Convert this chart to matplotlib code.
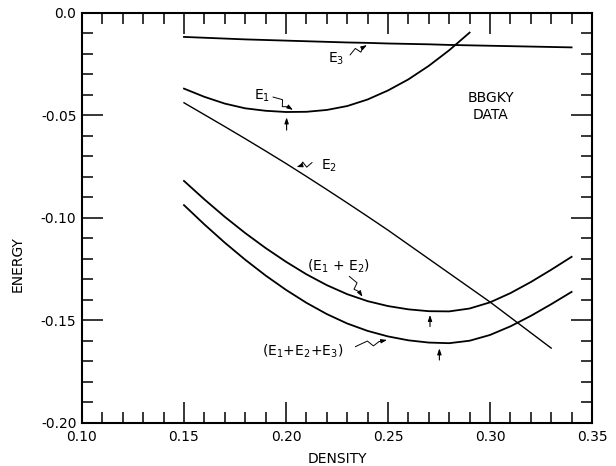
import numpy as np
import matplotlib
matplotlib.use("Agg")
import matplotlib.pyplot as plt

plt.rcParams['font.family'] = ['DejaVu Sans']
plt.rcParams['mathtext.default'] = 'regular'

# ---- data ----
density = [0.15, 0.16, 0.17, 0.18, 0.19, 0.20, 0.21, 0.22, 0.23, 0.24,
           0.25, 0.26, 0.27, 0.28, 0.29, 0.30, 0.31, 0.32, 0.33, 0.34]

e3 = [-0.0118, -0.0122, -0.0126, -0.0130, -0.0133, -0.0136, -0.0139, -0.0142, -0.0145, -0.0147,
      -0.0150, -0.0152, -0.0154, -0.0157, -0.0159, -0.0161, -0.0163, -0.0165, -0.0167, -0.0169]

density_e1 = [0.15, 0.16, 0.17, 0.18, 0.19, 0.20, 0.21, 0.22, 0.23, 0.24,
              0.25, 0.26, 0.27, 0.28, 0.29]
e1 = [-0.0370, -0.0410, -0.0443, -0.0466, -0.0478, -0.0484, -0.0483, -0.0474, -0.0455, -0.0423,
      -0.0379, -0.0325, -0.0259, -0.0183, -0.0097]

density_e2 = [0.15, 0.16, 0.17, 0.18, 0.19, 0.20, 0.21, 0.22, 0.23, 0.24,
              0.25, 0.26, 0.27, 0.28, 0.29, 0.30, 0.31, 0.32, 0.33]
e2 = [-0.0439, -0.0497, -0.0555, -0.0614, -0.0674, -0.0735, -0.0798, -0.0862, -0.0927, -0.0993,
      -0.1060, -0.1130, -0.1200, -0.1270, -0.1340, -0.1410, -0.1485, -0.1560, -0.1635]

e12 = [-0.0820, -0.0910, -0.0995, -0.1074, -0.1147, -0.1214, -0.1275, -0.1328, -0.1372, -0.1406,
       -0.1430, -0.1446, -0.1455, -0.1456, -0.1442, -0.1412, -0.1367, -0.1313, -0.1253, -0.1190]

e123 = [-0.0938, -0.1032, -0.1121, -0.1204, -0.1281, -0.1351, -0.1414, -0.1469, -0.1515, -0.1551,
        -0.1578, -0.1597, -0.1608, -0.1611, -0.1599, -0.1571, -0.1529, -0.1478, -0.1421, -0.1361]

x_ticks = [0.10, 0.15, 0.20, 0.25, 0.30, 0.35]
x_ticklabels = ["0.10", "0.15", "0.20", "0.25", "0.30", "0.35"]
y_ticks = [0.0, -0.05, -0.10, -0.15, -0.20]
y_ticklabels = ["0.0", "-0.05", "-0.10", "-0.15", "-0.20"]

# ---- figure ----
fig = plt.figure(figsize=(6.16, 4.66), dpi=100)
ax = fig.add_axes([0.1331, 0.0923, 0.8279, 0.8804])

lw = 1.3
ax.plot(density, e3, color='black', lw=lw)
ax.plot(density_e1, e1, color='black', lw=lw)
ax.plot(density_e2, e2, color='black', lw=1.0)
ax.plot(density, e12, color='black', lw=lw)
ax.plot(density, e123, color='black', lw=lw)

ax.set_xlim(0.10, 0.35)
ax.set_ylim(-0.20, 0.0)
ax.set_xticks(x_ticks)
ax.set_xticklabels(x_ticklabels)
ax.set_yticks(y_ticks)
ax.set_yticklabels(y_ticklabels)
ax.set_xticks(np.arange(0.10, 0.3501, 0.01), minor=True)
ax.set_yticks(np.arange(-0.20, 0.0001, 0.01), minor=True)
ax.tick_params(which='both', direction='in', top=True, right=True, width=1.1, labelsize=10)
ax.tick_params(which='major', length=15)
ax.tick_params(which='minor', length=8)
ax.tick_params(axis='x', pad=5)
ax.tick_params(axis='y', pad=4)
for s in ax.spines.values():
    s.set_linewidth(1.5)

ax.set_xlabel("DENSITY", fontsize=10, labelpad=6)
ax.set_ylabel("ENERGY", fontsize=10)
ax.yaxis.set_label_coords(-0.113, 0.3875)


def squiggle(x0, y0, x1, y1, amp=3.0):
    """zig-zag pointer from (x0,y0) to (x1,y1) given in data coords, ending with an arrowhead"""
    p0 = ax.transData.transform((x0, y0))
    p1 = ax.transData.transform((x1, y1))
    d = p1 - p0
    n = np.array([-d[1], d[0]]) / (np.hypot(*d) + 1e-9)
    pts = [p0,
           p0 + 0.40 * d + amp * n,
           p0 + 0.55 * d - amp * n,
           p0 + 0.75 * d]
    pts = np.array(pts)
    dat = ax.transData.inverted().transform(pts)
    ax.plot(dat[:, 0], dat[:, 1], color='black', lw=0.7, solid_capstyle='round')
    ax.annotate("", xy=(x1, y1), xytext=tuple(dat[-1]),
                arrowprops=dict(arrowstyle='-|>,head_length=0.35,head_width=0.12',
                                color='black', lw=0.7, shrinkA=0, shrinkB=0))


def uparrow(x, y0, y1):
    ax.annotate("", xy=(x, y1), xytext=(x, y0),
                arrowprops=dict(arrowstyle='-|>,head_length=0.35,head_width=0.12',
                                color='black', lw=0.8, shrinkA=0, shrinkB=0))


fs = 10
# labels
ax.text(0.1882, -0.0406, "E$_{1}$", fontsize=fs, ha='center', va='center')
squiggle(0.1936, -0.0411, 0.2034, -0.0474)
uparrow(0.2003, -0.0572, -0.0510)

ax.text(0.2245, -0.0226, "E$_{3}$", fontsize=fs, ha='center', va='center')
squiggle(0.2314, -0.0206, 0.2397, -0.0158)

ax.text(0.2210, -0.0745, "E$_{2}$", fontsize=fs, ha='center', va='center')
squiggle(0.2128, -0.0730, 0.2052, -0.0752)

ax.text(0.3005, -0.0418, "BBGKY", fontsize=fs, ha='center', va='center')
ax.text(0.3005, -0.0500, "DATA", fontsize=fs, ha='center', va='center')

ax.text(0.2258, -0.1235, "(E$_{1}$ + E$_{2}$)", fontsize=fs, ha='center', va='center')
squiggle(0.2310, -0.1285, 0.2375, -0.1385)
uparrow(0.2706, -0.1530, -0.1473)

ax.text(0.2080, -0.1650, "(E$_{1}$+E$_{2}$+E$_{3}$)", fontsize=fs, ha='center', va='center')
squiggle(0.2340, -0.1628, 0.2495, -0.1595)
uparrow(0.2752, -0.1693, -0.1636)

fig.savefig("out.png", dpi=100)
